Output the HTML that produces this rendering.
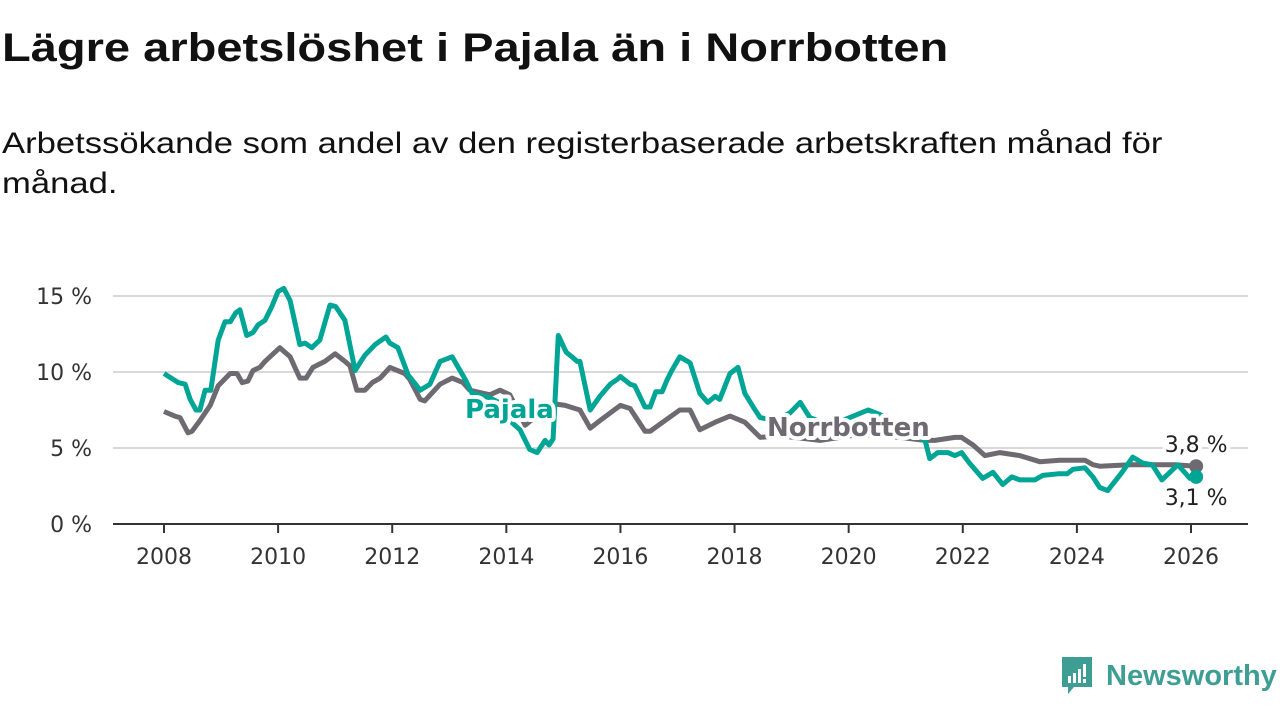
<!DOCTYPE html>
<html><head><meta charset="utf-8">
<style>
body{margin:0;background:#fff;width:1280px;height:720px;overflow:hidden;font-family:"Liberation Sans",sans-serif;}
#title{position:absolute;left:2px;top:26px;font-size:40px;font-weight:bold;color:#111;margin:0;white-space:nowrap;transform-origin:0 0;transform:scaleX(1.176);}
#sub{position:absolute;left:2px;top:124px;font-size:30px;color:#111;line-height:40px;white-space:nowrap;transform-origin:0 0;transform:scaleX(1.154);}
svg{position:absolute;left:0;top:0;}
</style></head>
<body>
<h1 id="title">Lägre arbetslöshet i Pajala än i Norrbotten</h1>
<div id="sub">Arbetssökande som andel av den registerbaserade arbetskraften månad för<br>månad.</div>
<svg id="chart" width="1280" height="720"></svg>
<div style="position:absolute;left:1060px;top:656px;height:40px;display:flex;align-items:center;">
<svg width="34" height="40" viewBox="0 0 34 40" style="position:static"><path d="M2 1h30v30H14l-6 7v-7H2z" fill="#3f9e94"/><rect x="8" y="20" width="3" height="7" fill="#fff"/><rect x="13" y="17" width="3" height="10" fill="#fff"/><rect x="18" y="13" width="3" height="14" fill="#fff"/><rect x="23" y="8" width="3" height="13" fill="#fff"/><rect x="23" y="23" width="3" height="4" fill="#fff"/></svg>
<span style="font-size:29px;color:#3f9e94;margin-left:12px;font-weight:bold;">Newsworthy</span></div>
<script>
const pajalaDates=[2008.00,2008.25,2008.37,2008.46,2008.56,2008.63,2008.72,2008.82,2008.95,2009.07,2009.16,2009.26,2009.33,2009.45,2009.56,2009.65,2009.77,2009.89,2010.00,2010.10,2010.21,2010.38,2010.47,2010.59,2010.73,2010.91,2011.01,2011.17,2011.35,2011.52,2011.70,2011.89,2011.96,2012.10,2012.28,2012.49,2012.66,2012.84,2013.05,2013.28,2013.40,2013.71,2013.97,2014.06,2014.24,2014.41,2014.54,2014.68,2014.75,2014.82,2014.91,2015.05,2015.15,2015.24,2015.29,2015.47,2015.64,2015.82,2015.94,2016.00,2016.17,2016.25,2016.43,2016.52,2016.62,2016.73,2016.82,2016.90,2017.04,2017.22,2017.39,2017.53,2017.66,2017.74,2017.92,2018.06,2018.18,2018.36,2018.45,2018.71,2018.97,2019.15,2019.32,2019.67,2020.02,2020.34,2020.55,2020.90,2021.34,2021.42,2021.56,2021.74,2021.86,2021.98,2022.12,2022.35,2022.53,2022.70,2022.86,2023.00,2023.26,2023.40,2023.67,2023.83,2023.93,2024.14,2024.28,2024.40,2024.54,2024.79,2024.98,2025.16,2025.32,2025.49,2025.77,2025.98,2026.09];
const pajalaValues=[9.9,9.3,9.2,8.2,7.5,7.5,8.8,8.8,12.1,13.3,13.3,13.9,14.1,12.4,12.6,13.1,13.4,14.3,15.3,15.5,14.7,11.8,11.9,11.6,12.1,14.4,14.3,13.4,10.1,11.1,11.8,12.3,11.9,11.6,9.8,8.8,9.2,10.7,11.0,9.5,8.6,8.3,7.8,6.8,6.2,4.9,4.7,5.5,5.2,5.6,12.4,11.3,11.0,10.7,10.7,7.5,8.4,9.2,9.5,9.7,9.2,9.1,7.7,7.7,8.7,8.7,9.5,10.1,11.0,10.6,8.6,8.0,8.4,8.2,9.9,10.3,8.6,7.5,7.0,6.8,7.3,8.0,7.0,6.5,7.0,7.5,7.2,6.5,5.5,4.3,4.7,4.7,4.5,4.7,4.0,3.0,3.4,2.6,3.1,2.9,2.9,3.2,3.3,3.3,3.6,3.7,3.1,2.4,2.2,3.4,4.4,4.0,3.9,2.9,3.9,3.0,3.1];
const norrDates=[2008.00,2008.19,2008.28,2008.42,2008.49,2008.63,2008.81,2008.95,2009.16,2009.28,2009.37,2009.47,2009.56,2009.68,2009.77,2010.03,2010.21,2010.38,2010.49,2010.61,2010.82,2011.00,2011.17,2011.26,2011.38,2011.52,2011.65,2011.79,2011.96,2012.22,2012.31,2012.49,2012.57,2012.84,2013.05,2013.24,2013.36,2013.71,2013.89,2014.06,2014.33,2014.68,2014.85,2015.03,2015.29,2015.47,2015.64,2016.00,2016.17,2016.43,2016.52,2016.78,2017.04,2017.22,2017.39,2017.66,2017.92,2018.18,2018.45,2018.80,2019.50,2020.20,2020.90,2021.34,2021.51,2021.86,2021.98,2022.18,2022.39,2022.65,2023.00,2023.35,2023.70,2024.14,2024.28,2024.40,2024.93,2025.72,2026.09];
const norrValues=[7.4,7.1,7.0,6.0,6.1,6.8,7.8,9.1,9.9,9.9,9.3,9.4,10.1,10.3,10.7,11.6,11.0,9.6,9.6,10.3,10.7,11.2,10.7,10.4,8.8,8.8,9.3,9.6,10.3,9.9,9.5,8.2,8.1,9.2,9.6,9.3,8.8,8.5,8.8,8.5,6.5,7.6,7.9,7.8,7.5,6.3,6.8,7.8,7.6,6.1,6.1,6.8,7.5,7.5,6.2,6.7,7.1,6.7,5.7,5.8,5.5,5.9,5.7,5.5,5.5,5.7,5.7,5.2,4.5,4.7,4.5,4.1,4.2,4.2,3.9,3.8,3.9,3.9,3.8];
const yTicks=[0,5,10,15];
const yTickLabels=["0 %","5 %","10 %","15 %"];
const xTicks=[2008,2010,2012,2014,2016,2018,2020,2022,2024,2026];
const lastLabels=["3,8 %","3,1 %"];

const NS="http://www.w3.org/2000/svg";
const svg=document.getElementById('chart');
const X=y=>164+(y-2008)*(1191-164)/18;
const Y=v=>524-v*(524-296)/15;
const FT='DejaVu Sans, sans-serif';
function mk(t,a,p){const e=document.createElementNS(NS,t);for(const k in a)e.setAttribute(k,a[k]);(p||svg).appendChild(e);return e;}
yTicks.forEach((v,i)=>{
  if(v>0){const g=mk('line',{x1:113,x2:1248,y1:Y(v),y2:Y(v),stroke:'#d9d9d9','stroke-width':2});
  
  }
  const t=mk('text',{x:92,y:Y(v)+8,'text-anchor':'end','font-size':22,fill:'#333','font-family':FT});
  t.textContent=yTickLabels[i];
  
  
});
const ax=mk('line',{x1:113,x2:1248,y1:524,y2:524,stroke:'#333','stroke-width':2});


xTicks.forEach(yr=>{
  const l=mk('line',{x1:X(yr),x2:X(yr),y1:524,y2:533,stroke:'#333','stroke-width':2});
  
  
  const t=mk('text',{x:X(yr),y:564,'text-anchor':'middle','font-size':22,fill:'#333','font-family':FT});
  t.textContent=String(yr);
  
  
});
function path(d,v){return d.map((x,i)=>(i?'L':'M')+X(x).toFixed(1)+' '+Y(v[i]).toFixed(1)).join(' ');}
const ln=mk('path',{d:path(norrDates,norrValues),fill:'none',stroke:'#6d6b71','stroke-width':5,'stroke-linejoin':'round'});


const lp=mk('path',{d:path(pajalaDates,pajalaValues),fill:'none',stroke:'#00a595','stroke-width':5,'stroke-linejoin':'round'});


function lab(txt,x,y,col,name,anchor,bold,size,sw){
  const t=mk('text',{x:x,y:y,'text-anchor':anchor,'font-size':size,'font-weight':bold?'bold':'normal',fill:col,stroke:'#fff','stroke-width':sw,'paint-order':'stroke','stroke-linejoin':'round','font-family':FT});
  t.textContent=txt;
  
  
}
lab('Pajala',465,418,'#00a595','pajala-label','start',true,26,8);
lab('Norrbotten',767,436,'#6d6b71','norrbotten-label','start',true,26,8);
const nl=norrDates.length-1, pl=pajalaDates.length-1;
const dn=mk('circle',{cx:X(norrDates[nl]),cy:Y(norrValues[nl]),r:7,fill:'#6d6b71'});


const dp=mk('circle',{cx:X(pajalaDates[pl]),cy:Y(pajalaValues[pl]),r:7,fill:'#00a595'});


lab(lastLabels[0],X(norrDates[nl]),Y(norrValues[nl])-14,'#222','norrbotten-last-value','middle',false,22,8);
lab(lastLabels[1],X(pajalaDates[pl]),Y(pajalaValues[pl])+28,'#222','pajala-last-value','middle',false,22,8);
</script>
</body></html>
